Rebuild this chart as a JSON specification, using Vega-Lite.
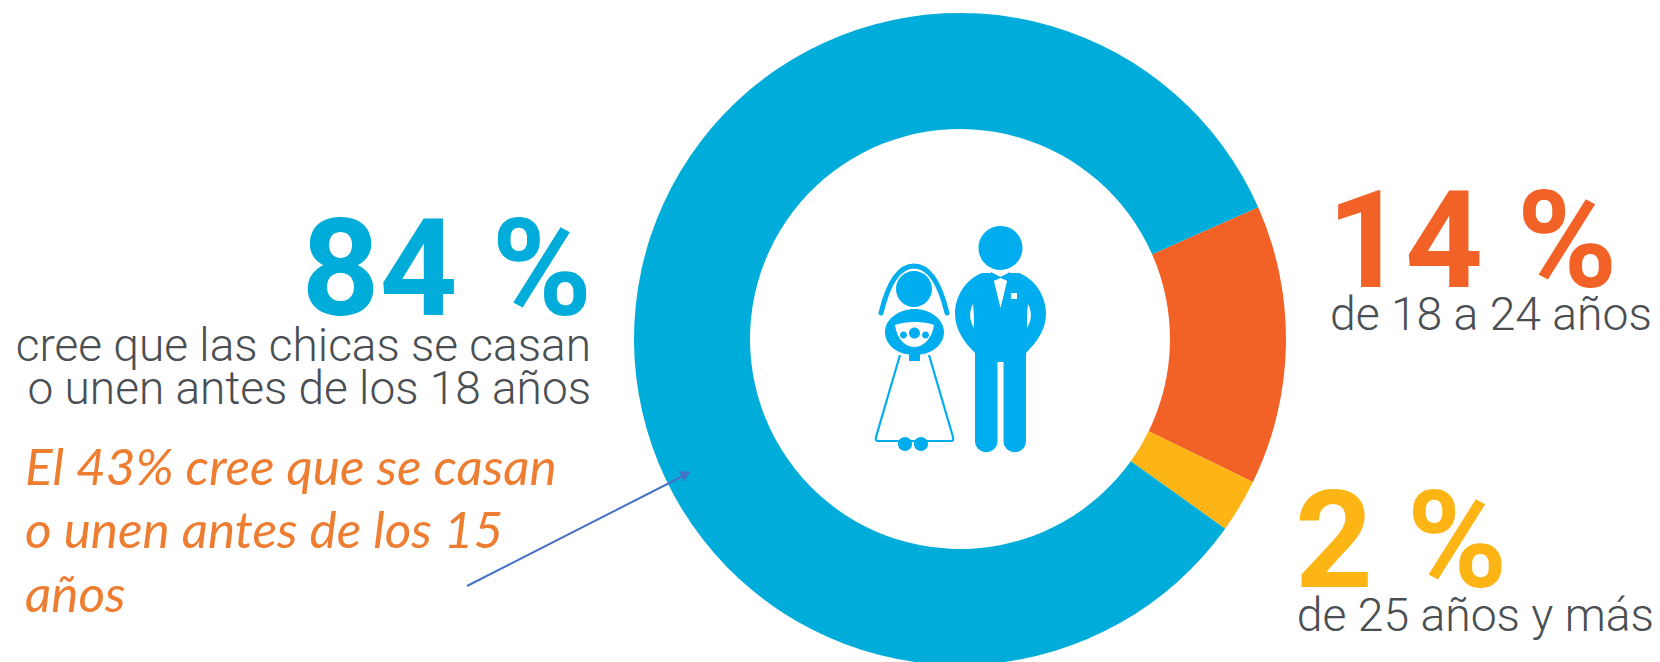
{
"$schema":"https://vega.github.io/schema/vega-lite/v6.json",
"width":1660,"height":662,"padding":0,"autosize":{"type":"none"},
"background":"white",
"config":{"view":{"stroke":null},"axis":{"domain":false,"ticks":false,"labels":false,"title":null,"grid":false}},
"layer":[
{"data":{"values":[{"grupo":"de 18 a 24 años","pct":13.85,"orden":1},{"grupo":"de 25 años y más","pct":2.65,"orden":2},{"grupo":"antes de los 18 años","pct":83.5,"orden":3}]},
 "mark":{"type":"arc","outerRadius":326,"innerRadius":210,"stroke":null},
 "encoding":{
  "x":{"datum":960,"type":"quantitative","scale":{"domain":[0,1660],"range":[0,1660]},"axis":null},
  "y":{"datum":339,"type":"quantitative","scale":{"domain":[0,662],"range":[0,662]},"axis":null},
  "theta":{"field":"pct","type":"quantitative","stack":true,"scale":{"range":[1.155,7.438]}},
  "order":{"field":"orden"},
  "color":{"field":"grupo","type":"nominal","legend":null,"scale":{"domain":["de 18 a 24 años","de 25 años y más","antes de los 18 años"],"range":["#F26126","#FDB515","#00ACD9"]}}
 }},
{"data":{"values":[{"parte":"icono"}]},
 "layer":[
  {"mark":{"type":"point","filled":true,"opacity":1,"color":"#00ADEF","size":4,"strokeWidth":0,"shape":"M982 273 C966 279 955 296 955 314 C955 330 965 343 975 353 L975 441 A11 11 0 0 0 997.5 441 L997.5 362 L1003.5 362 L1003.5 441 A11 11 0 0 0 1026 441 L1026 353 C1036 343 1046 330 1046 314 C1046 296 1035 279 1019 273 Z M978.5 248 A22 22 0 1 0 1022.5 248 A22 22 0 1 0 978.5 248 Z M896 289 A18 18 0 1 0 932 289 A18 18 0 1 0 896 289 Z M885 332 C885 319 899 309 914.5 309 C930 309 944 319 944 332 C944 346 930 355 914.5 355 C899 355 885 346 885 332 Z M909 353 L920 353 L920 361 L909 361 Z M898 444 A7 7 0 1 0 912 444 A7 7 0 1 0 898 444 Z M914 444 A7 7 0 1 0 928 444 A7 7 0 1 0 914 444 Z"}},
  {"mark":{"type":"point","filled":true,"opacity":1,"color":"#FFFFFF","size":4,"strokeWidth":0,"shape":"M992 273 L1009 273 L1000.5 308 Z M973 304 C969 312 969 320 974 328 C974 320 974 312 973 304 Z M1028 304 C1032 312 1032 320 1027 328 C1027 320 1027 312 1028 304 Z M1011 293 L1017 293 L1017 299 L1011 299 Z M895 325 C905 321 925 321 934 325 C932 340 922 347 914.5 347 C906 347 897 340 895 325 Z"}},
  {"mark":{"type":"point","filled":true,"opacity":1,"color":"#00ADEF","size":4,"strokeWidth":0,"shape":"M991 272 L1000.5 277 L1010 272 L1010 282 L1000.5 278 L991 282 Z M909 333 A5.5 5.5 0 1 0 920 333 A5.5 5.5 0 1 0 909 333 Z M900 335 A3.5 3.5 0 1 0 907 335 A3.5 3.5 0 1 0 900 335 Z M922 335 A3.5 3.5 0 1 0 929 335 A3.5 3.5 0 1 0 922 335 Z"}},
  {"mark":{"type":"point","filled":false,"opacity":1,"color":"#00ADEF","size":4,"strokeWidth":5,"strokeCap":"round","shape":"M881 313 C887 288 897 266 914 266 C931 266 941 288 947 313"}},
  {"mark":{"type":"point","filled":false,"opacity":1,"color":"#00ADEF","size":4,"strokeWidth":2.2,"shape":"M900 355 L876 437 Q875 441 878 441 L951 441 Q954 441 953 437 L929 355"}}
 ],
 "encoding":{
  "x":{"datum":0,"type":"quantitative","scale":{"domain":[0,1660],"range":[0,1660]},"axis":null},
  "y":{"datum":0,"type":"quantitative","scale":{"domain":[0,662],"range":[0,662]},"axis":null}
 }},
{"data":{"values":[{"parte":"flecha"}]},
 "mark":{"type":"rule","color":"#4472C4","strokeWidth":2},
 "encoding":{
  "x":{"datum":467,"type":"quantitative","scale":{"domain":[0,1660],"range":[0,1660]},"axis":null},
  "y":{"datum":586,"type":"quantitative","scale":{"domain":[0,662],"range":[0,662]},"axis":null},
  "x2":{"datum":685},"y2":{"datum":475}
 }},
{"data":{"values":[{"parte":"punta"}]},
 "mark":{"type":"point","shape":"triangle-up","filled":true,"opacity":1,"color":"#4472C4","size":140,"strokeWidth":0,"angle":63},
 "encoding":{
  "x":{"datum":686,"type":"quantitative","scale":{"domain":[0,1660],"range":[0,1660]},"axis":null},
  "y":{"datum":474,"type":"quantitative","scale":{"domain":[0,662],"range":[0,662]},"axis":null}
 }},
{"data":{"values":[{"label":"84 %"}]},
 "mark":{"type":"text","font":"Roboto","fontWeight":700,"fontSize":136,"align":"right","baseline":"alphabetic","color":"#00ACD9"},
 "encoding":{"text":{"field":"label"},
  "x":{"datum":592,"type":"quantitative","scale":{"domain":[0,1660],"range":[0,1660]},"axis":null},
  "y":{"datum":315,"type":"quantitative","scale":{"domain":[0,662],"range":[0,662]},"axis":null}}},
{"data":{"values":[{"label":"14 %"}]},
 "mark":{"type":"text","font":"Roboto","fontWeight":700,"fontSize":136,"align":"left","baseline":"alphabetic","color":"#F26126"},
 "encoding":{"text":{"field":"label"},
  "x":{"datum":1327,"type":"quantitative","scale":{"domain":[0,1660],"range":[0,1660]},"axis":null},
  "y":{"datum":287,"type":"quantitative","scale":{"domain":[0,662],"range":[0,662]},"axis":null}}},
{"data":{"values":[{"label":"2 %"}]},
 "mark":{"type":"text","font":"Roboto","fontWeight":700,"fontSize":136,"align":"left","baseline":"alphabetic","color":"#FDB515"},
 "encoding":{"text":{"field":"label"},
  "x":{"datum":1295,"type":"quantitative","scale":{"domain":[0,1660],"range":[0,1660]},"axis":null},
  "y":{"datum":587,"type":"quantitative","scale":{"domain":[0,662],"range":[0,662]},"axis":null}}},
{"data":{"values":[{"label":"cree que las chicas se casan"}]},
 "mark":{"type":"text","font":"Roboto","fontWeight":300,"fontSize":46,"align":"right","baseline":"alphabetic","color":"#4A4F54"},
 "encoding":{"text":{"field":"label"},
  "x":{"datum":591,"type":"quantitative","scale":{"domain":[0,1660],"range":[0,1660]},"axis":null},
  "y":{"datum":361,"type":"quantitative","scale":{"domain":[0,662],"range":[0,662]},"axis":null}}},
{"data":{"values":[{"label":"o unen antes de los 18 años"}]},
 "mark":{"type":"text","font":"Roboto","fontWeight":300,"fontSize":46,"align":"right","baseline":"alphabetic","color":"#4A4F54"},
 "encoding":{"text":{"field":"label"},
  "x":{"datum":591,"type":"quantitative","scale":{"domain":[0,1660],"range":[0,1660]},"axis":null},
  "y":{"datum":404,"type":"quantitative","scale":{"domain":[0,662],"range":[0,662]},"axis":null}}},
{"data":{"values":[{"label":"de 18 a 24 años"}]},
 "mark":{"type":"text","font":"Roboto","fontWeight":300,"fontSize":46.3,"align":"right","baseline":"alphabetic","color":"#4A4F54"},
 "encoding":{"text":{"field":"label"},
  "x":{"datum":1652,"type":"quantitative","scale":{"domain":[0,1660],"range":[0,1660]},"axis":null},
  "y":{"datum":330,"type":"quantitative","scale":{"domain":[0,662],"range":[0,662]},"axis":null}}},
{"data":{"values":[{"label":"de 25 años y más"}]},
 "mark":{"type":"text","font":"Roboto","fontWeight":300,"fontSize":46.3,"align":"right","baseline":"alphabetic","color":"#4A4F54"},
 "encoding":{"text":{"field":"label"},
  "x":{"datum":1654,"type":"quantitative","scale":{"domain":[0,1660],"range":[0,1660]},"axis":null},
  "y":{"datum":631,"type":"quantitative","scale":{"domain":[0,662],"range":[0,662]},"axis":null}}},
{"data":{"values":[{"label":"El 43% cree que se casan"}]},
 "mark":{"type":"text","font":"Lato","fontStyle":"italic","fontSize":51.3,"align":"left","baseline":"alphabetic","color":"#ED7D31"},
 "encoding":{"text":{"field":"label"},
  "x":{"datum":25,"type":"quantitative","scale":{"domain":[0,1660],"range":[0,1660]},"axis":null},
  "y":{"datum":485,"type":"quantitative","scale":{"domain":[0,662],"range":[0,662]},"axis":null}}},
{"data":{"values":[{"label":"o unen antes de los 15"}]},
 "mark":{"type":"text","font":"Lato","fontStyle":"italic","fontSize":51.3,"align":"left","baseline":"alphabetic","color":"#ED7D31"},
 "encoding":{"text":{"field":"label"},
  "x":{"datum":25,"type":"quantitative","scale":{"domain":[0,1660],"range":[0,1660]},"axis":null},
  "y":{"datum":548,"type":"quantitative","scale":{"domain":[0,662],"range":[0,662]},"axis":null}}},
{"data":{"values":[{"label":"años"}]},
 "mark":{"type":"text","font":"Lato","fontStyle":"italic","fontSize":51.3,"align":"left","baseline":"alphabetic","color":"#ED7D31"},
 "encoding":{"text":{"field":"label"},
  "x":{"datum":25,"type":"quantitative","scale":{"domain":[0,1660],"range":[0,1660]},"axis":null},
  "y":{"datum":612,"type":"quantitative","scale":{"domain":[0,662],"range":[0,662]},"axis":null}}}
]
}
